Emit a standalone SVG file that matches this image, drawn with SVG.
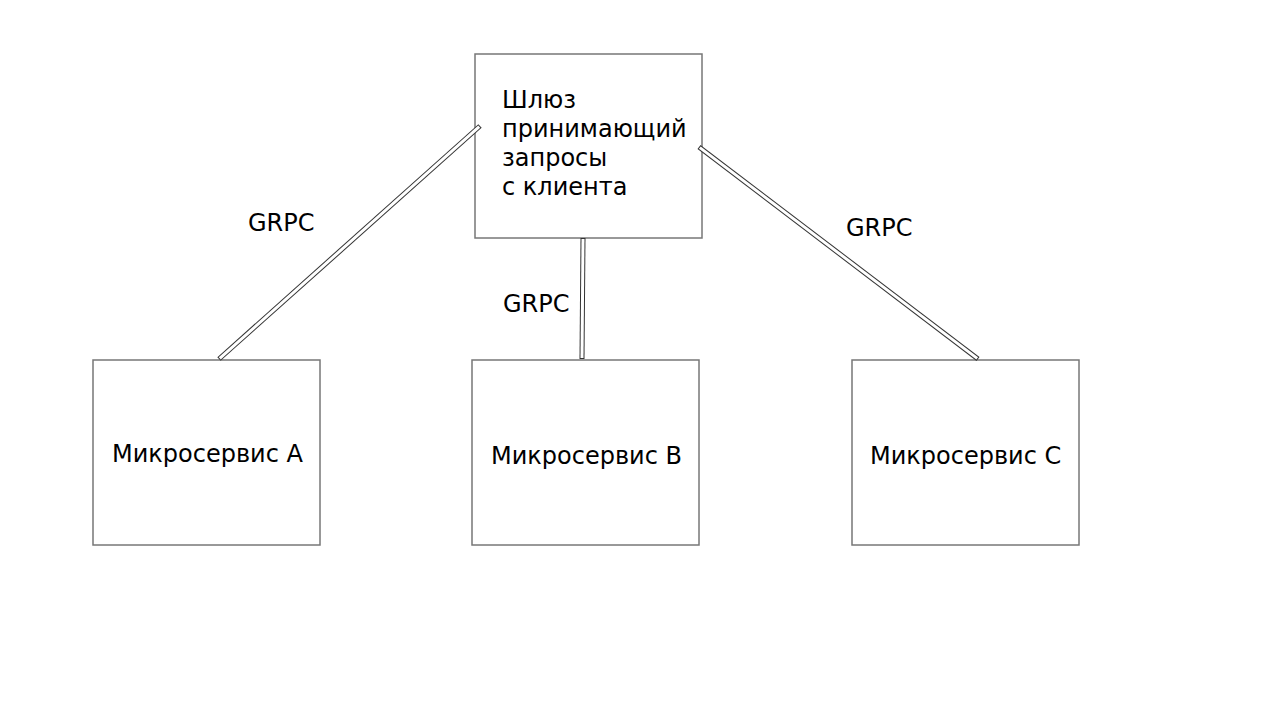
<svg xmlns="http://www.w3.org/2000/svg" width="1280" height="720" viewBox="0 0 1280 720">
<style>
.box{fill:#fff;stroke:#777;stroke-width:1.5}
.t{font-family:"DejaVu Sans",sans-serif;font-size:24px;fill:#000}
.co{stroke:#333;stroke-width:5;fill:none}
.ci{stroke:#fff;stroke-width:3;fill:none}
</style>
<rect width="1280" height="720" fill="#fff"/>
<g id="gateway">
<rect class="box" x="475" y="54" width="227" height="184"/>
<text class="t" x="502" y="108">Шлюз</text>
<text class="t" x="502" y="137">принимающий</text>
<text class="t" x="502" y="166">запросы</text>
<text class="t" x="502" y="195">с клиента</text>
</g>
<g id="serviceA">
<rect class="box" x="93" y="360" width="227" height="185"/>
<text class="t" x="112" y="462">Микросервис A</text>
</g>
<g id="serviceB">
<rect class="box" x="472" y="360" width="227" height="185"/>
<text class="t" x="491" y="464">Микросервис B</text>
</g>
<g id="serviceC">
<rect class="box" x="852" y="360" width="227" height="185"/>
<text class="t" x="870" y="464">Микросервис C</text>
</g>
<g id="connectors">
<line class="co" x1="480" y1="126" x2="219" y2="359"/>
<line class="ci" x1="479.25" y1="126.67" x2="219.75" y2="358.33"/>
<line class="co" x1="583" y1="238" x2="582" y2="359"/>
<line class="ci" x1="583" y1="239" x2="582" y2="358"/>
<line class="co" x1="699" y1="147" x2="978" y2="359"/>
<line class="ci" x1="699.8" y1="147.6" x2="977.2" y2="358.4"/>
<text class="t" x="248" y="231">GRPC</text>
<text class="t" x="503" y="312">GRPC</text>
<text class="t" x="846" y="236">GRPC</text>
</g>
</svg>
